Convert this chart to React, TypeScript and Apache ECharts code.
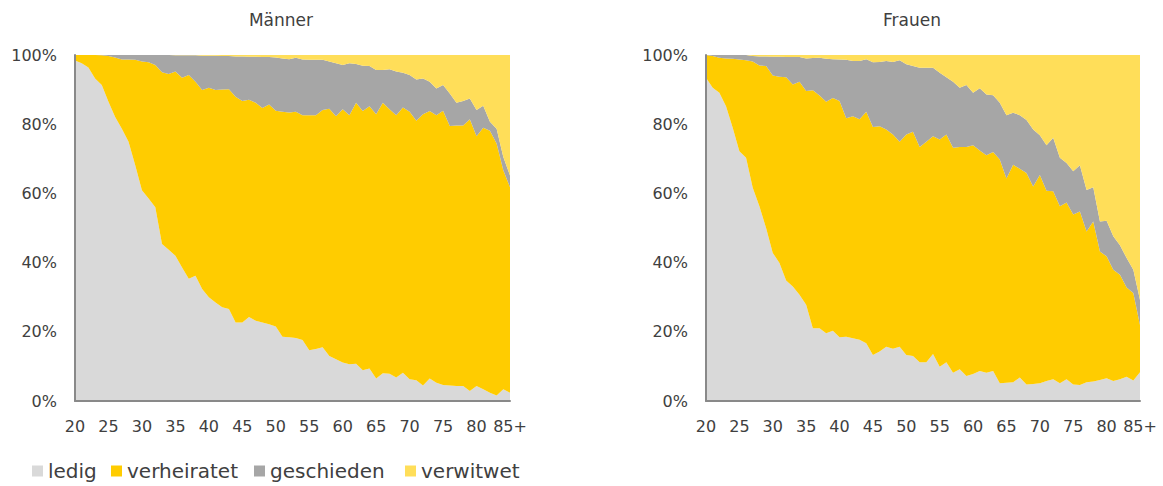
import React, { useEffect, useRef } from "react";
import * as echarts from "echarts";

const ages = [
  "20", "21", "22", "23", "24", "25", "26", "27", "28", "29",
  "30", "31", "32", "33", "34", "35", "36", "37", "38", "39",
  "40", "41", "42", "43", "44", "45", "46", "47", "48", "49",
  "50", "51", "52", "53", "54", "55", "56", "57", "58", "59",
  "60", "61", "62", "63", "64", "65", "66", "67", "68", "69",
  "70", "71", "72", "73", "74", "75", "76", "77", "78", "79",
  "80", "81", "82", "83", "84", "85+",
];

const seriesNames = ["ledig", "verheiratet", "geschieden", "verwitwet"];
const seriesColors = ["#D9D9D9", "#FFCC00", "#A6A6A6", "#FFDE59"];
const chartTitles = ["Männer", "Frauen"];

// Männer
const mLedig = [
  98.4, 97.6, 96.4, 93.2, 91.3, 86.5, 82.1, 78.7, 74.9, 68.1,
  60.9, 58.5, 56.0, 45.4, 43.7, 42.0, 38.6, 35.3, 36.2, 32.4,
  30.0, 28.5, 27.1, 26.6, 22.7, 22.7, 24.3, 23.2, 22.7, 22.2,
  21.5, 18.6, 18.4, 18.2, 17.6, 14.7, 15.0, 15.5, 13.0, 12.1,
  11.1, 10.6, 10.8, 8.9, 9.4, 6.5, 8.0, 7.9, 6.8, 8.2,
  6.3, 6.0, 4.5, 6.5, 5.3, 4.6, 4.5, 4.3, 4.3, 2.9,
  4.3, 3.4, 2.4, 1.6, 3.4, 2.4,
];
const mVerheiratet = [
  1.6, 2.4, 3.6, 6.8, 8.6, 13.2, 17.2, 20.0, 23.8, 30.5,
  37.2, 39.4, 41.1, 49.6, 50.8, 53.2, 54.8, 58.9, 56.1, 57.5,
  60.5, 61.4, 62.9, 63.5, 65.2, 64.0, 62.8, 63.0, 62.0, 63.5,
  62.4, 65.0, 65.0, 65.4, 65.0, 67.9, 67.6, 68.6, 71.5, 70.2,
  73.2, 72.0, 75.4, 74.9, 75.8, 76.4, 78.2, 76.4, 75.8, 76.6,
  77.3, 75.0, 78.4, 77.3, 77.3, 79.3, 75.0, 75.3, 75.3, 78.5,
  72.2, 75.6, 75.7, 72.8, 63.3, 59.4,
];
const mGeschieden = [
  0, 0, 0, 0, 0.1, 0.3, 0.7, 1.3, 1.3, 1.4,
  1.9, 2.1, 2.9, 5.0, 5.5, 4.7, 6.5, 5.7, 7.6, 9.9,
  9.3, 9.9, 9.7, 9.6, 11.7, 12.9, 12.4, 13.3, 14.7, 13.7,
  15.4, 15.4, 15.4, 15.6, 16.1, 16.0, 16.0, 14.5, 13.6, 15.3,
  12.8, 15.0, 11.2, 13.1, 11.6, 12.8, 9.5, 11.6, 12.6, 10.1,
  10.6, 11.9, 10.3, 8.5, 7.7, 7.4, 9.4, 6.6, 7.1, 6.0,
  7.6, 6.3, 2.6, 4.3, 3.8, 3.4,
];
const mVerwitwet = [
  0, 0, 0, 0, 0, 0, 0, 0, 0, 0,
  0, 0, 0, 0, 0, 0.1, 0.1, 0.1, 0.1, 0.2,
  0.2, 0.2, 0.3, 0.3, 0.4, 0.4, 0.5, 0.5, 0.6, 0.6,
  0.7, 1.0, 1.2, 0.8, 1.3, 1.4, 1.4, 1.4, 1.9, 2.4,
  2.9, 2.4, 2.6, 3.1, 3.2, 4.3, 4.3, 4.1, 4.8, 5.1,
  5.8, 7.1, 6.8, 7.7, 9.7, 8.7, 11.1, 13.8, 13.3, 12.6,
  15.9, 14.7, 19.3, 21.3, 29.5, 34.8,
];

// Frauen
const fLedig = [
  93.4, 90.5, 89.1, 85.2, 79.0, 72.2, 70.3, 61.6, 56.3, 50.0,
  42.8, 39.9, 34.8, 33.1, 30.7, 27.8, 21.0, 21.0, 19.6, 20.3,
  18.4, 18.6, 18.1, 17.7, 16.7, 13.3, 14.3, 15.7, 15.1, 15.7,
  13.3, 13.0, 11.2, 11.2, 13.6, 9.9, 11.2, 8.2, 9.2, 7.2,
  7.8, 8.7, 8.2, 8.7, 5.1, 5.3, 5.4, 6.8, 4.8, 4.9,
  5.1, 5.8, 6.3, 5.1, 6.3, 4.8, 4.6, 5.4, 5.6, 6.1,
  6.6, 5.8, 6.3, 7.0, 5.9, 8.3,
];
const fVerheiratet = [
  6.6, 9.2, 10.1, 13.8, 19.9, 26.5, 28.2, 36.5, 40.7, 46.8,
  51.3, 53.8, 58.8, 58.4, 61.6, 61.8, 68.8, 67.3, 66.9, 67.3,
  68.3, 63.1, 64.2, 63.7, 66.9, 65.9, 65.1, 62.8, 61.9, 59.2,
  63.7, 64.8, 62.2, 63.7, 62.9, 65.7, 65.8, 65.0, 64.2, 66.2,
  66.1, 63.7, 62.8, 63.3, 64.7, 59.0, 62.9, 60.3, 61.1, 57.1,
  60.2, 55.0, 54.3, 51.2, 51.1, 49.1, 50.2, 43.6, 46.3, 37.1,
  35.2, 32.1, 30.2, 25.8, 25.3, 13.7,
];
const fGeschieden = [
  0, 0.3, 0.8, 1.0, 1.1, 1.3, 1.5, 1.6, 2.6, 2.8,
  5.4, 5.8, 5.8, 7.9, 7.1, 9.4, 9.3, 10.9, 12.4, 11.2,
  12.0, 16.9, 16.0, 16.9, 15.2, 18.7, 18.6, 19.8, 21.0, 23.6,
  20.3, 19.0, 22.9, 21.4, 19.8, 19.3, 16.6, 19.1, 17.1, 17.9,
  15.2, 18.0, 17.6, 16.4, 16.4, 18.3, 15.0, 15.5, 15.3, 16.5,
  11.5, 13.1, 15.5, 14.0, 11.4, 12.5, 13.3, 12.0, 9.9, 8.7,
  10.3, 9.7, 8.5, 8.5, 6.7, 7.2,
];
const fVerwitwet = [
  0, 0, 0, 0, 0, 0, 0, 0.3, 0.4, 0.4,
  0.5, 0.5, 0.6, 0.6, 0.6, 1.0, 0.9, 0.8, 1.1, 1.2,
  1.3, 1.4, 1.7, 1.7, 1.2, 2.1, 2.0, 1.7, 2.0, 1.5,
  2.7, 3.2, 3.7, 3.7, 3.7, 5.1, 6.4, 7.7, 9.5, 8.7,
  10.9, 9.6, 11.4, 11.6, 13.8, 17.4, 16.7, 17.4, 18.8, 21.5,
  23.2, 26.1, 23.9, 29.7, 31.2, 33.6, 31.9, 39.0, 38.2, 48.1,
  47.9, 52.4, 55.0, 58.7, 62.1, 70.8,
];

const menData = [mLedig, mVerheiratet, mGeschieden, mVerwitwet];
const womenData = [fLedig, fVerheiratet, fGeschieden, fVerwitwet];

const FONT = "DejaVu Sans";
const TEXT = "#404040";
const AXIS = "#898989";

export default function App() {
  const ref = useRef<HTMLDivElement>(null);

  useEffect(() => {
    if (!ref.current) return;
    const chart = echarts.init(ref.current, undefined, { renderer: "svg" });

    const grids = [
      { left: 75, top: 55, width: 435, height: 346 },
      { left: 706, top: 55, width: 434, height: 346 },
    ];

    const xAxes = grids.map((_, i) => ({
      type: "category",
      gridIndex: i,
      data: ages,
      boundaryGap: false,
      z: 5,
      axisLine: { show: true, lineStyle: { color: AXIS, width: 2 } },
      axisTick: { show: false },
      splitLine: { show: false },
      axisLabel: {
        interval: 4,
        margin: 17,
        fontSize: 16,
        fontFamily: FONT,
        color: TEXT,
      },
    }));

    const yAxes = grids.map((_, i) => ({
      type: "value",
      gridIndex: i,
      min: 0,
      max: 100,
      interval: 20,
      z: 5,
      axisLine: { show: true, lineStyle: { color: AXIS, width: 2 } },
      axisTick: { show: false },
      splitLine: { show: false },
      axisLabel: {
        formatter: "{value}%",
        margin: 18,
        fontSize: 16,
        fontFamily: FONT,
        color: TEXT,
      },
    }));

    const makeSeries = (data: number[][], idx: number) =>
      seriesNames.map((name, k) => ({
        name,
        type: "line",
        xAxisIndex: idx,
        yAxisIndex: idx,
        stack: idx === 0 ? "m" : "f",
        symbol: "none",
        silent: true,
        color: seriesColors[k],
        itemStyle: { color: seriesColors[k] },
        lineStyle: { width: 0, color: seriesColors[k] },
        areaStyle: { color: seriesColors[k], opacity: 1 },
        data: data[k],
      }));

    const legendLefts = [32, 111, 254, 405];
    const legends = seriesNames.map((name, k) => ({
      left: legendLefts[k],
      top: 461,
      padding: 0,
      selectedMode: false,
      icon: "rect",
      itemWidth: 11,
      itemHeight: 11,
      data: [{ name, icon: "rect", itemStyle: { color: seriesColors[k] } }],
      textStyle: { fontSize: 20, fontFamily: FONT, color: TEXT },
    }));

    const titleStyle = { fontSize: 17, fontWeight: "normal", fontFamily: FONT, color: TEXT };

    chart.setOption({
      animation: false,
      backgroundColor: "#ffffff",
      title: [
        { text: chartTitles[0], left: 281, top: 11, padding: 0, textAlign: "center", textStyle: titleStyle },
        { text: chartTitles[1], left: 912, top: 11, padding: 0, textAlign: "center", textStyle: titleStyle },
      ],
      legend: legends,
      grid: grids,
      xAxis: xAxes,
      yAxis: yAxes,
      series: [...makeSeries(menData, 0), ...makeSeries(womenData, 1)],
    });

    return () => chart.dispose();
  }, []);

  return (
    <div
      ref={ref}
      style={{ position: "absolute", left: 0, top: 0, width: 1163, height: 486 }}
    />
  );
}
